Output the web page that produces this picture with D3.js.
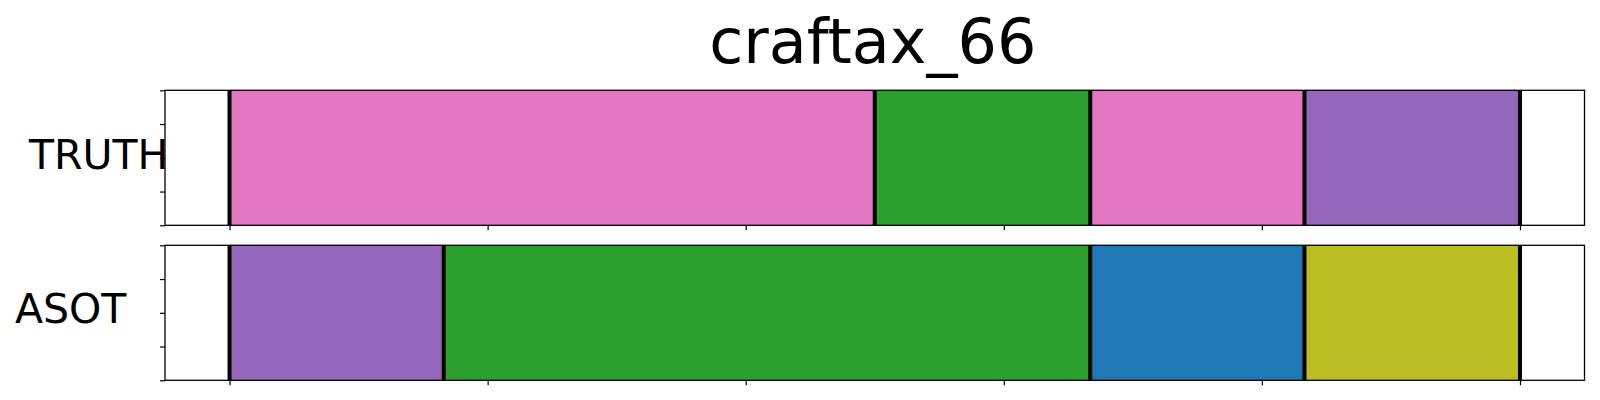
<!DOCTYPE html>
<html>
<head>
<meta charset="utf-8">
<script src="https://cdn.jsdelivr.net/npm/d3@7"></script>
<style>
  html, body { margin: 0; padding: 0; background: #fff; }
  svg { display: block; font-family: "DejaVu Sans", sans-serif; }
</style>
</head>
<body>
<svg id="chart" width="1600" height="400"></svg>
<script>
// ---- data ----
const title = "craftax_66";
const rowLabels = ["TRUTH", "ASOT"];
// segment boundaries (in frame units, 0..100) for each row
const truthBounds = [0, 50, 66.7, 83.3, 100];
const truthColors = ["#e377c2", "#2ca02c", "#e377c2", "#9467bd"];
const asotBounds = [0, 16.6, 66.7, 83.3, 100];
const asotColors = ["#9467bd", "#2ca02c", "#1f77b4", "#bcbd22"];
const xTicks = [0, 20, 40, 60, 80, 100];
const yTicks = [0, 0.25, 0.5, 0.75, 1];

const rows = [
  { label: rowLabels[0], bounds: truthBounds, colors: truthColors, top: 90.3, bottom: 225.3, lx: 29, ly: 169 },
  { label: rowLabels[1], bounds: asotBounds, colors: asotColors, top: 245.3, bottom: 380.3, lx: 15, ly: 323.3 }
];

const svg = d3.select("#chart");
const x = d3.scaleLinear().domain([-5, 105]).range([165, 1584.5]);

svg.append("text")
  .attr("x", (165 + 1584.5) / 2 - 2)
  .attr("y", 63)
  .attr("text-anchor", "middle")
  .attr("font-size", 62)
  .attr("fill", "#000")
  .text(title);

rows.forEach(r => {
  const g = svg.append("g");
  const y = d3.scaleLinear().domain([0, 1]).range([r.bottom, r.top]);

  g.append("rect")
    .attr("x", x(-5)).attr("y", r.top)
    .attr("width", x(105) - x(-5)).attr("height", r.bottom - r.top)
    .attr("fill", "#fff");

  const segs = r.colors.map((c, i) => ({ s: r.bounds[i], e: r.bounds[i + 1], c }));
  g.selectAll("rect.seg").data(segs).enter().append("rect")
    .attr("class", "seg")
    .attr("x", d => x(d.s)).attr("y", y(1))
    .attr("width", d => x(d.e) - x(d.s)).attr("height", y(0) - y(1))
    .attr("fill", d => d.c)
    .attr("stroke", d => d.c).attr("stroke-width", 0.8);

  g.selectAll("line.bd").data(r.bounds).enter().append("line")
    .attr("class", "bd")
    .attr("x1", d => x(d)).attr("x2", d => x(d))
    .attr("y1", y(1)).attr("y2", y(0))
    .attr("stroke", "#000").attr("stroke-width", 4);

  const xa = g.append("g").attr("transform", `translate(0,${r.bottom})`)
    .call(d3.axisBottom(x).tickValues(xTicks).tickFormat("").tickSize(5).tickSizeOuter(0));
  xa.select(".domain").remove();
  xa.selectAll("line").attr("stroke", "#000").attr("stroke-width", 1.2);

  const ya = g.append("g").attr("transform", `translate(${x(-5)},0)`)
    .call(d3.axisLeft(y).tickValues(yTicks).tickFormat("").tickSize(5).tickSizeOuter(0));
  ya.select(".domain").remove();
  ya.selectAll("line").attr("stroke", "#000").attr("stroke-width", 1.2);

  g.append("rect")
    .attr("x", x(-5)).attr("y", r.top)
    .attr("width", x(105) - x(-5)).attr("height", r.bottom - r.top)
    .attr("fill", "none").attr("stroke", "#000").attr("stroke-width", 1.3);

  svg.append("text")
    .attr("x", r.lx).attr("y", r.ly)
    .attr("font-size", 41)
    .attr("fill", "#000")
    .text(r.label);
});
</script>
</body>
</html>
